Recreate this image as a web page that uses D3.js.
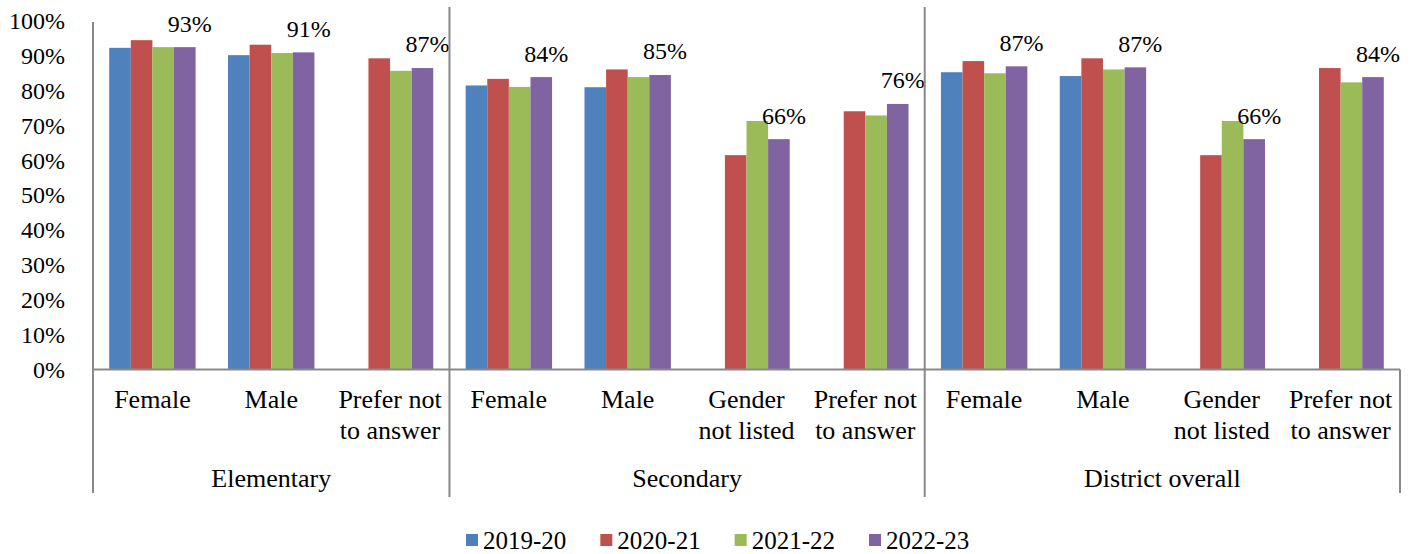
<!DOCTYPE html>
<html>
<head>
<meta charset="utf-8">
<script src="https://cdn.jsdelivr.net/npm/d3@7"></script>
<style>
  html, body { margin: 0; padding: 0; background: #fff; }
</style>
</head>
<body>
<div id="chart"></div>
<script>
// Chart data
const groups = ["Elementary", "Secondary", "District overall"];
const elementaryCats = ["Female", "Male", "Prefer not|to answer"];
const secondaryCats = ["Female", "Male", "Gender|not listed", "Prefer not|to answer"];
const districtCats = ["Female", "Male", "Gender|not listed", "Prefer not|to answer"];
const years = ["2019-20", "2020-21", "2021-22", "2022-23"];

// one value per category, in order (Elementary, Secondary, District overall); null = no bar
const values2019_20 = [92.3, 90.2, null, 81.5, 81.0, null, null, 85.3, 84.2, null, null];
const values2020_21 = [94.5, 93.2, 89.3, 83.4, 86.1, 61.5, 74.1, 88.5, 89.3, 61.5, 86.5];
const values2021_22 = [92.5, 90.8, 85.7, 81.1, 83.9, 71.3, 72.9, 85.0, 86.1, 71.3, 82.4];
const values2022_23 = [92.5, 91.0, 86.5, 83.9, 84.5, 66.1, 76.2, 87.0, 86.7, 66.1, 83.9];

const yTicks = [0, 10, 20, 30, 40, 50, 60, 70, 80, 90, 100];

const colors = ["#4f81bd", "#c0504d", "#9bbb59", "#8064a2"];
const seriesValues = [values2019_20, values2020_21, values2021_22, values2022_23];

const FONT = "'Liberation Serif', Tinos, 'Times New Roman', 'DejaVu Serif', serif";
const width = 1413;
const height = 554;
const margin = { top: 21, right: 13, bottom: 184.5, left: 93 };
const axisColor = "#898989";

// flatten categories, remembering the group of each
const groupCats = [elementaryCats, secondaryCats, districtCats];
const categories = [];
groupCats.forEach((cats, gi) => {
  cats.forEach((c) => categories.push({ label: c, group: gi, index: categories.length }));
});

const svg = d3
  .select("#chart")
  .append("svg")
  .attr("width", width)
  .attr("height", height)
  .attr("viewBox", [0, 0, width, height])
  .attr("font-family", FONT);

// Scales
const x0 = d3
  .scaleBand()
  .domain(categories.map((d) => d.index))
  .range([margin.left, width - margin.right])
  .padding(0);

const x1 = d3
  .scaleBand()
  .domain(years)
  .range([0, x0.bandwidth()])
  .paddingInner(0)
  .paddingOuter(0.75);

const y = d3
  .scaleLinear()
  .domain([0, 100])
  .range([height - margin.bottom, margin.top]);

const baseY = y(0);

// Y axis labels
svg
  .append("g")
  .attr("transform", `translate(${margin.left},0)`)
  .call(d3.axisLeft(y).tickValues(yTicks).tickFormat((d) => d + "%").tickSize(0).tickPadding(28))
  .call((g) => g.select(".domain").remove())
  .attr("font-family", FONT)
  .selectAll("text")
  .attr("fill", "#000")
  .attr("font-family", FONT)
  .style("font-size", "24px");

// Bars
years.forEach((yr, si) => {
  const data = categories
    .map((c) => ({ c, v: seriesValues[si][c.index] }))
    .filter((d) => d.v != null);

  svg
    .append("g")
    .selectAll("rect")
    .data(data)
    .join("rect")
    .attr("x", (d) => x0(d.c.index) + x1(yr))
    .attr("y", (d) => y(d.v))
    .attr("width", x1.bandwidth())
    .attr("height", (d) => baseY - y(d.v))
    .attr("fill", colors[si]);
});

// Value labels on the 2022-23 bars
const lastYear = years[years.length - 1];
svg
  .append("g")
  .selectAll("text")
  .data(categories.map((c) => ({ c, v: values2022_23[c.index] })).filter((d) => d.v != null))
  .join("text")
  .attr("x", (d) => x0(d.c.index) + x1(lastYear) + x1.bandwidth() / 2 + 5)
  .attr("y", (d) => y(d.v) - 24)
  .attr("dy", "0.35em")
  .attr("text-anchor", "middle")
  .attr("fill", "#000")
  .attr("font-family", FONT)
  .style("font-size", "24px")
  .text((d) => Math.round(d.v) + "%");

// Axis lines
const lines = svg.append("g").attr("stroke", axisColor).attr("stroke-width", 2);

lines
  .append("line")
  .attr("x1", margin.left)
  .attr("x2", width - margin.right)
  .attr("y1", baseY)
  .attr("y2", baseY);

lines
  .append("line")
  .attr("x1", margin.left)
  .attr("x2", margin.left)
  .attr("y1", margin.top + 1)
  .attr("y2", 493);

// group dividers
groups.forEach((g, gi) => {
  if (gi === 0) return;
  const first = categories.find((c) => c.group === gi);
  const xd = x0(first.index);
  lines
    .append("line")
    .attr("x1", xd)
    .attr("x2", xd)
    .attr("y1", 7)
    .attr("y2", 497);
});

lines
  .append("line")
  .attr("x1", width - margin.right)
  .attr("x2", width - margin.right)
  .attr("y1", baseY)
  .attr("y2", 493);

// Category labels
const catLabels = svg
  .append("g")
  .selectAll("text")
  .data(categories)
  .join("text")
  .attr("x", (d) => x0(d.index) + x0.bandwidth() / 2)
  .attr("y", 408)
  .attr("text-anchor", "middle")
  .attr("fill", "#000")
  .attr("font-family", FONT)
  .style("font-size", "26px");

catLabels.each(function (d) {
  const parts = d.label.split("|");
  const t = d3.select(this);
  parts.forEach((p, i) => {
    t.append("tspan")
      .attr("x", x0(d.index) + x0.bandwidth() / 2)
      .attr("dy", i === 0 ? 0 : 31)
      .text(p);
  });
});

// Group labels
svg
  .append("g")
  .selectAll("text")
  .data(groups)
  .join("text")
  .attr("x", (g, gi) => {
    const cats = categories.filter((c) => c.group === gi);
    const start = x0(cats[0].index);
    const end = x0(cats[cats.length - 1].index) + x0.bandwidth();
    return (start + end) / 2;
  })
  .attr("y", 487)
  .attr("text-anchor", "middle")
  .attr("fill", "#000")
  .attr("font-family", FONT)
  .style("font-size", "26px")
  .text((g) => g);

// Legend
const legend = svg.append("g").attr("transform", "translate(466,540)");
let lx = 0;
years.forEach((yr, si) => {
  const item = legend.append("g").attr("transform", `translate(${lx},0)`);
  item
    .append("rect")
    .attr("x", 0)
    .attr("y", -6)
    .attr("width", 12)
    .attr("height", 12)
    .attr("fill", colors[si]);
  const txt = item
    .append("text")
    .attr("x", 17)
    .attr("y", 0)
    .attr("dy", "0.35em")
    .attr("fill", "#000")
    .attr("font-family", FONT)
    .style("font-size", "25px")
    .text(yr);
  lx += 17 + txt.node().getComputedTextLength() + 34;
});
</script>
</body>
</html>
